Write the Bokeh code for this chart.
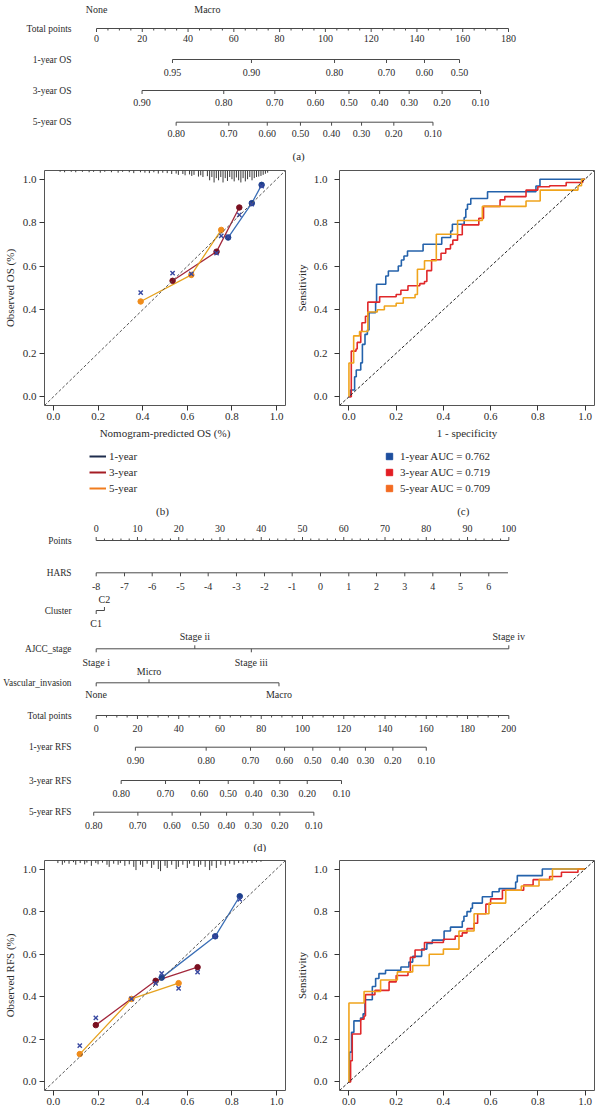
import numpy as np
from bokeh.plotting import figure
from bokeh.models import Range1d, FixedTicker, NumeralTickFormatter, Legend, LegendItem, Label, Slope
from bokeh.layouts import column, row
from bokeh.embed import file_html
from bokeh.resources import INLINE
from bokeh.core.properties import value

FONT = "Liberation Serif"
INK = "#2b2b2b"
NLINE = "#4a4a4a"

# ======================= DATA =======================
# (a) OS nomogram (visible part)
os_row_names = ["Total points", "1-year OS", "3-year OS", "5-year OS"]
os_vi_labels = ["None", "Macro"]
os_vi_points = [0.0, 26.9]
os_total_max = 180
os1_probs = [0.95, 0.90, 0.80, 0.70, 0.60, 0.50]
os1_total = [33.2, 67.7, 104.0, 126.7, 143.3, 158.6]
os3_probs = [0.90, 0.80, 0.70, 0.60, 0.50, 0.40, 0.30, 0.20, 0.10]
os3_total = [19.9, 55.6, 77.9, 95.7, 110.3, 123.7, 136.6, 151.0, 167.8]
os5_probs = [0.80, 0.70, 0.60, 0.50, 0.40, 0.30, 0.20, 0.10]
os5_total = [34.8, 57.8, 74.6, 89.1, 102.7, 115.8, 129.9, 147.0]

# (b) calibration OS: predicted, observed (dots), bias-corrected (x)
cal_os_1y_pred = [0.783, 0.889, 0.933]
cal_os_1y_obs = [0.732, 0.890, 0.974]
cal_os_1y_corr = [0.735, 0.885, 0.968]
cal_os_3y_pred = [0.534, 0.731, 0.833]
cal_os_3y_obs = [0.533, 0.667, 0.870]
cal_os_3y_corr = [0.568, 0.660, 0.836]
cal_os_5y_pred = [0.391, 0.618, 0.752]
cal_os_5y_obs = [0.438, 0.560, 0.767]
cal_os_5y_corr = [0.479, 0.565, 0.740]
rug_os = [(0.03, 0.006), (0.05, 0.008), (0.08, 0.006), (0.10, 0.008), (0.13, 0.006), (0.16, 0.008),
          (0.18, 0.006), (0.21, 0.010), (0.23, 0.006), (0.26, 0.008), (0.29, 0.010), (0.31, 0.006),
          (0.34, 0.008), (0.36, 0.012), (0.39, 0.008), (0.41, 0.010), (0.43, 0.012), (0.45, 0.008),
          (0.47, 0.014), (0.49, 0.010), (0.51, 0.012), (0.53, 0.016), (0.55, 0.014), (0.56, 0.020),
          (0.58, 0.016), (0.59, 0.022), (0.61, 0.018), (0.62, 0.025), (0.63, 0.020), (0.65, 0.028),
          (0.66, 0.022), (0.67, 0.030), (0.69, 0.026), (0.70, 0.045), (0.71, 0.030), (0.72, 0.055),
          (0.73, 0.035), (0.74, 0.045), (0.75, 0.030), (0.76, 0.055), (0.77, 0.035), (0.78, 0.048),
          (0.79, 0.030), (0.80, 0.040), (0.81, 0.050), (0.82, 0.032), (0.83, 0.045), (0.84, 0.055),
          (0.85, 0.035), (0.86, 0.050), (0.87, 0.040), (0.88, 0.030), (0.89, 0.045), (0.90, 0.035),
          (0.91, 0.030), (0.92, 0.028), (0.93, 0.025), (0.94, 0.020), (0.95, 0.015), (0.96, 0.010)]
cal_legend_labels = ["1-year", "3-year", "5-year"]

# (c) ROC OS
roc_os_1y_fpr = [0, 0.007, 0.024, 0.031, 0.05, 0.057, 0.068, 0.078, 0.085, 0.113, 0.117, 0.156, 0.167,
                 0.209, 0.222, 0.233, 0.248, 0.314, 0.393, 0.431, 0.438, 0.488, 0.495, 0.502, 0.516,
                 0.587, 0.792, 0.809, 1.0]
roc_os_1y_tpr = [0, 0.031, 0.092, 0.123, 0.156, 0.241, 0.287, 0.307, 0.387, 0.433, 0.517, 0.555, 0.578,
                 0.601, 0.629, 0.647, 0.670, 0.701, 0.732, 0.762, 0.793, 0.824, 0.862, 0.885, 0.911,
                 0.942, 0.969, 1.0, 1.0]
roc_os_3y_fpr = [0, 0.01, 0.03, 0.035, 0.05, 0.055, 0.07, 0.08, 0.13, 0.2, 0.22, 0.25, 0.3, 0.32, 0.33,
                 0.35, 0.39, 0.41, 0.43, 0.44, 0.46, 0.48, 0.55, 0.57, 0.64, 0.66, 0.75, 0.8, 0.85, 0.92,
                 0.99, 1.0]
roc_os_3y_tpr = [0, 0.21, 0.22, 0.25, 0.30, 0.34, 0.37, 0.435, 0.46, 0.47, 0.49, 0.51, 0.52, 0.53, 0.58,
                 0.63, 0.66, 0.68, 0.70, 0.72, 0.745, 0.79, 0.82, 0.875, 0.905, 0.92, 0.95, 0.965, 0.97,
                 0.985, 1.0, 1.0]
roc_os_5y_fpr = [0, 0.0, 0.02, 0.045, 0.08, 0.12, 0.15, 0.2, 0.23, 0.28, 0.29, 0.32, 0.37, 0.46, 0.565,
                 0.75, 0.81, 0.97, 0.985, 1.0]
roc_os_5y_tpr = [0, 0.155, 0.28, 0.30, 0.39, 0.40, 0.417, 0.43, 0.455, 0.47, 0.586, 0.625, 0.747, 0.81,
                 0.875, 0.90, 0.95, 0.97, 1.0, 1.0]
roc_os_labels = ["1-year AUC = 0.762", "3-year AUC = 0.719", "5-year AUC = 0.709"]

# (d) RFS nomogram
rfs_row_names = ["Points", "HARS", "Cluster", "AJCC_stage", "Vascular_invasion", "Total points",
                 "1-year RFS", "3-year RFS", "5-year RFS"]
hars_values = [-8, -7, -6, -5, -4, -3, -2, -1, 0, 1, 2, 3, 4, 5, 6]
hars_points = [0, 6.86, 13.57, 20.43, 27.14, 34.0, 40.79, 47.5, 54.36, 61.22, 67.94, 74.79, 81.58, 88.29, 95.15]
hars_line_end = 99.8
cluster_labels = ["C1", "C2"]
cluster_points = [0.0, 2.0]
cluster_above = [False, True]
ajcc_labels = ["Stage i", "Stage ii", "Stage iii", "Stage iv"]
ajcc_points = [0.0, 23.9, 37.6, 100.0]
ajcc_above = [False, True, False, True]
vi_labels = ["None", "Micro", "Macro"]
vi_points = [0.0, 12.8, 44.3]
vi_above = [False, True, False]
rfs_total_max = 200
rfs1_probs = [0.90, 0.80, 0.70, 0.60, 0.50, 0.40, 0.30, 0.20, 0.10]
rfs1_total = [19.0, 53.3, 74.8, 91.3, 105.0, 118.1, 130.5, 143.8, 160.0]
rfs3_probs = [0.80, 0.70, 0.60, 0.50, 0.40, 0.30, 0.20, 0.10]
rfs3_total = [12.1, 33.6, 50.1, 64.0, 76.4, 89.0, 102.3, 118.9]
rfs5_probs = [0.80, 0.70, 0.60, 0.50, 0.40, 0.30, 0.20, 0.10]
rfs5_total = [-1.2, 20.2, 36.8, 50.6, 63.2, 76.1, 89.0, 105.5]

# (e) calibration RFS
cal_rfs_1y_pred = [0.485, 0.725, 0.835]
cal_rfs_1y_obs = [0.490, 0.684, 0.872]
cal_rfs_1y_corr = [0.510, 0.684, 0.857]
cal_rfs_3y_pred = [0.190, 0.458, 0.646]
cal_rfs_3y_obs = [0.267, 0.475, 0.539]
cal_rfs_3y_corr = [0.301, 0.463, 0.516]
cal_rfs_5y_pred = [0.118, 0.350, 0.561]
cal_rfs_5y_obs = [0.131, 0.390, 0.464]
cal_rfs_5y_corr = [0.171, 0.390, 0.440]
rug_rfs = [(0.02, 0.012), (0.04, 0.020), (0.05, 0.010), (0.07, 0.015), (0.09, 0.008), (0.10, 0.020),
           (0.12, 0.012), (0.14, 0.018), (0.15, 0.010), (0.17, 0.025), (0.19, 0.012), (0.20, 0.018),
           (0.22, 0.010), (0.24, 0.020), (0.25, 0.030), (0.27, 0.015), (0.29, 0.020), (0.30, 0.012),
           (0.32, 0.025), (0.34, 0.018), (0.36, 0.030), (0.37, 0.045), (0.39, 0.020), (0.40, 0.030),
           (0.42, 0.015), (0.44, 0.035), (0.45, 0.020), (0.47, 0.040), (0.48, 0.050), (0.50, 0.025),
           (0.51, 0.035), (0.53, 0.020), (0.55, 0.040), (0.56, 0.030), (0.58, 0.020), (0.60, 0.035),
           (0.61, 0.015), (0.63, 0.025), (0.65, 0.030), (0.66, 0.020), (0.68, 0.030), (0.70, 0.045),
           (0.71, 0.025), (0.73, 0.035), (0.75, 0.020), (0.77, 0.025), (0.79, 0.015), (0.81, 0.020),
           (0.83, 0.012), (0.85, 0.015), (0.87, 0.010), (0.89, 0.012), (0.91, 0.008), (0.93, 0.006)]

# (f) ROC RFS
roc_rfs_1y_fpr = [0, 0.003, 0.011, 0.021, 0.049, 0.06, 0.068, 0.099, 0.113, 0.127, 0.155, 0.22, 0.254,
                  0.27, 0.308, 0.33, 0.353, 0.403, 0.43, 0.48, 0.487, 0.5, 0.516, 0.523, 0.565, 0.607,
                  0.636, 0.706, 0.713, 0.819, 1.0]
roc_rfs_1y_tpr = [0, 0.14, 0.233, 0.287, 0.30, 0.32, 0.386, 0.448, 0.486, 0.509, 0.525, 0.54, 0.563,
                  0.59, 0.624, 0.65, 0.666, 0.709, 0.727, 0.755, 0.778, 0.80, 0.816, 0.84, 0.87, 0.893,
                  0.908, 0.939, 0.969, 1.0, 1.0]
roc_rfs_3y_fpr = [0, 0.007, 0.014, 0.05, 0.064, 0.07, 0.11, 0.17, 0.2, 0.25, 0.26, 0.28, 0.32, 0.4,
                  0.45, 0.48, 0.5, 0.53, 0.545, 0.58, 0.6, 0.65, 0.74, 0.78, 0.85, 0.9, 0.97, 1.0]
roc_rfs_3y_tpr = [0, 0.1, 0.225, 0.295, 0.31, 0.41, 0.43, 0.47, 0.5, 0.515, 0.585, 0.62, 0.655, 0.67,
                  0.685, 0.7, 0.72, 0.745, 0.79, 0.835, 0.86, 0.9, 0.925, 0.95, 0.965, 0.985, 1.0, 1.0]
roc_rfs_5y_fpr = [0, 0.0, 0.064, 0.134, 0.205, 0.27, 0.34, 0.4, 0.466, 0.53, 0.593, 0.664, 0.73, 0.805,
                  0.862, 1.0]
roc_rfs_5y_tpr = [0, 0.371, 0.425, 0.479, 0.517, 0.547, 0.6, 0.624, 0.709, 0.79, 0.84, 0.9, 0.92, 0.95,
                  1.0, 1.0]

# ======================= STYLE / LAYOUT =======================
CAL_LINE = ["#3b6fb6", "#a3283c", "#e6a21e"]
CAL_DOT = ["#1c3f8c", "#7a1020", "#f08c1a"]
CAL_X = "#3848a0"
CAL_LEG = ["#1f2d4d", "#a51d24", "#f07c1e"]
ROC_LINE = ["#2462ab", "#e0282a", "#f0a41c"]
ROC_LEG = ["#1d4e9e", "#e31e24", "#f36b21"]

PAGE_W = 599
A_H, D_H = 163, 334
B_H, LEG_H, E_H = 281, 74, 259
LEFT_W, RIGHT_W = 292, 307
TICKS01 = [0, 0.2, 0.4, 0.6, 0.8, 1.0]
ROW_LABEL_RIGHT = 71  # px from left where row names end


def nomo_fig(height, x0_px, k):
    p = figure(width=PAGE_W, height=height, x_range=Range1d(-x0_px / k, (PAGE_W - x0_px) / k),
               y_range=Range1d(height, 0), min_border=0, min_border_left=0, min_border_right=0,
               min_border_top=0, min_border_bottom=0, x_axis_location=None, y_axis_location=None,
               output_backend="svg", toolbar_location=None)
    p.grid.visible = False
    p.outline_line_color = None
    return p


def hline(p, x0, x1, y):
    p.segment(x0=[x0], y0=[y], x1=[x1], y1=[y], line_color=NLINE, line_width=1)


def ticks(p, xs, y, length):
    xs = list(xs)
    p.segment(x0=xs, y0=[y] * len(xs), x1=xs, y1=[y + length] * len(xs), line_color=NLINE, line_width=1)


def labels(p, xs, ys, texts, size="10px", align="center"):
    xs = list(xs)
    if not isinstance(ys, list):
        ys = [ys] * len(xs)
    p.text(x=xs, y=ys, text=list(texts), text_align=align, text_baseline="middle",
           text_font=value(FONT), text_font_size=size, text_color=INK)


def scale_row(p, xs, texts, y_line, y_lab, tick_len):
    hline(p, min(xs), max(xs), y_line)
    ticks(p, xs, y_line, tick_len)
    labels(p, xs, y_lab, texts)


def cat_row(p, xs, texts, above, y_line, y_up, y_down):
    hline(p, min(xs), max(xs), y_line)
    for x, t, a in zip(xs, texts, above):
        ticks(p, [x], y_line, -3.5 if a else 3.5)
        labels(p, [x], y_up if a else y_down, [t])


def fmt_p(v):
    return "%.2f" % v


# ---------------- (a) ----------------
kA = 412.0 / os_total_max
pa = nomo_fig(A_H, 96.0, kA)
labels(pa, [(ROW_LABEL_RIGHT - 96.0) / kA] * 4, [28, 59, 90, 121.7], os_row_names, "9.5px", "right")
labels(pa, [v * os_total_max / 100.0 for v in os_vi_points], 9, os_vi_labels)
tp_major = list(range(0, os_total_max + 1, 20))
hline(pa, 0, os_total_max, 28)
ticks(pa, tp_major, 28, 3.5)
ticks(pa, [v for v in range(0, os_total_max + 1, 5) if v % 20], 28, 2)
labels(pa, tp_major, 38, [str(v) for v in tp_major])
scale_row(pa, os1_total, [fmt_p(v) for v in os1_probs], 59, 72, 3.5)
scale_row(pa, os3_total, [fmt_p(v) for v in os3_probs], 90, 102, 3.5)
scale_row(pa, os5_total, [fmt_p(v) for v in os5_probs], 121.7, 133, 3.5)
pa.add_layout(Label(x=88.3, y=155, text="(a)", text_align="center", text_baseline="middle",
                    text_font=FONT, text_font_size="11px", text_color=INK))


# ---------------- calibration / ROC figs ----------------
def cal_fig(w, h, left, right, top, bottom, ylabel, xlabel, ystand, ylab_stand):
    p = figure(width=w, height=h, x_range=Range1d(-0.04, 1.04), y_range=Range1d(-0.04, 1.04),
               min_border_left=left, min_border_right=right, min_border_top=top,
               min_border_bottom=bottom, output_backend="svg", toolbar_location=None)
    p.grid.visible = False
    p.outline_line_color = "#555555"
    p.outline_line_width = 1
    for ax in (p.xaxis[0], p.yaxis[0]):
        ax.ticker = FixedTicker(ticks=TICKS01)
        ax.formatter = NumeralTickFormatter(format="0.0")
        ax.axis_line_color = None
        ax.major_tick_line_color = "#333333"
        ax.major_tick_out = 5
        ax.major_tick_in = 0
        ax.minor_tick_line_color = None
        ax.major_label_text_font = FONT
        ax.major_label_text_font_size = "11px"
        ax.major_label_text_color = INK
        ax.axis_label_text_font = FONT
        ax.axis_label_text_font_size = "11px"
        ax.axis_label_text_font_style = "normal"
        ax.axis_label_text_color = INK
    p.yaxis[0].axis_label = ylabel
    p.yaxis[0].major_label_standoff = ystand
    p.yaxis[0].axis_label_standoff = ylab_stand
    p.xaxis[0].major_label_standoff = 2
    if xlabel:
        p.xaxis[0].axis_label = xlabel
        p.xaxis[0].axis_label_standoff = 4
    return p


def draw_cal(p, preds, obss, corrs, rug):
    p.add_layout(Slope(gradient=1, y_intercept=0, line_color="#555555", line_dash="3 2", line_width=1))
    rx = [r[0] for r in rug]
    rh = [r[1] for r in rug]
    p.segment(x0=rx, y0=[1.04] * len(rx), x1=rx, y1=[1.04 - h for h in rh], line_color="#222222",
              line_width=0.9)
    for i in range(3):
        p.line(preds[i], obss[i], line_color=CAL_LINE[i], line_width=1.3)
    for i in range(3):
        p.scatter(preds[i], obss[i], marker="circle", size=5.5, fill_color=CAL_DOT[i], line_color=CAL_DOT[i])
    for i in range(3):
        p.scatter(preds[i], corrs[i], marker="x", size=6, line_color=CAL_X, line_width=1.4)


def draw_roc(p, fprs, tprs):
    p.add_layout(Slope(gradient=1, y_intercept=0, line_color="#222222", line_dash="3 2", line_width=1))
    for i in range(3):
        p.step(fprs[i], tprs[i], mode="after", line_color=ROC_LINE[i], line_width=1.6)


pb = cal_fig(LEFT_W, B_H, 43, 7, 7, 39, "Observed OS (%)", "Nomogram-predicted OS (%)", 3, 4)
draw_cal(pb, [cal_os_1y_pred, cal_os_3y_pred, cal_os_5y_pred],
         [cal_os_1y_obs, cal_os_3y_obs, cal_os_5y_obs],
         [cal_os_1y_corr, cal_os_3y_corr, cal_os_5y_corr], rug_os)

pc = cal_fig(RIGHT_W, B_H, 46, 5, 7, 39, "Sensitivity", "1 - specificity", 7, 3)
draw_roc(pc, [roc_os_1y_fpr, roc_os_3y_fpr, roc_os_5y_fpr], [roc_os_1y_tpr, roc_os_3y_tpr, roc_os_5y_tpr])


def legend_fig(w, kind, colors, texts, loc, gw, standoff, tag, tag_x):
    p = figure(width=w, height=LEG_H, x_range=Range1d(0, w), y_range=Range1d(0, LEG_H),
               min_border=0, min_border_left=0, min_border_right=0, min_border_top=0,
               min_border_bottom=0, x_axis_location=None, y_axis_location=None,
               output_backend="svg", toolbar_location=None)
    p.grid.visible = False
    p.outline_line_color = None
    rs = []
    for c in colors:
        if kind == "line":
            rs.append(p.line(x=[np.nan], y=[np.nan], line_color=c, line_width=2))
        else:
            rs.append(p.scatter(x=[np.nan], y=[np.nan], marker="square", size=7, fill_color=c, line_color=c))
    leg = Legend(items=[LegendItem(label=t, renderers=[r]) for t, r in zip(texts, rs)], location=loc,
                 orientation="vertical", border_line_color=None, background_fill_alpha=0, padding=0,
                 margin=0, spacing=0, glyph_width=gw, glyph_height=16, label_height=16,
                 label_standoff=standoff, label_text_font=FONT, label_text_font_size="11px",
                 label_text_color=INK)
    p.add_layout(leg)
    p.add_layout(Label(x=tag_x, y=8, text=tag, text_align="center", text_baseline="middle",
                       text_font=FONT, text_font_size="11px", text_color=INK))
    return p


lb = legend_fig(LEFT_W, "line", CAL_LEG, cal_legend_labels, (45, 22), 17, 3, "(b)", 143)
lc = legend_fig(RIGHT_W, "square", ROC_LEG, roc_os_labels, (42, 22), 16, 3, "(c)", 149)

# ---------------- (d) ----------------
kD = 412.6 / 100.0
pd = nomo_fig(D_H, 95.7, kD)
labels(pd, [(ROW_LABEL_RIGHT - 95.7) / kD] * 9, [22, 54.3, 92, 130.3, 164.3, 197, 228.7, 262, 293.7],
       rfs_row_names, "9.3px", "right")
pts_major = list(range(0, 101, 10))
hline(pd, 0, 100, 22)
ticks(pd, pts_major, 22, -3.5)
ticks(pd, [v for v in range(0, 101, 2) if v % 10], 22, -2)
labels(pd, pts_major, 10, [str(v) for v in pts_major])
hline(pd, 0, hars_line_end, 54.3)
ticks(pd, hars_points, 54.3, 3.5)
labels(pd, hars_points, 68, [str(v) for v in hars_values])
cat_row(pd, cluster_points, cluster_labels, cluster_above, 92, 81, 105)
cat_row(pd, ajcc_points, ajcc_labels, ajcc_above, 130.3, 118, 143.7)
cat_row(pd, vi_points, vi_labels, vi_above, 164.3, 152.7, 176)
f = 100.0 / rfs_total_max
tpd_major = list(range(0, rfs_total_max + 1, 20))
hline(pd, 0, 100, 197)
ticks(pd, [v * f for v in tpd_major], 197, 3.5)
ticks(pd, [v * f for v in range(0, rfs_total_max + 1, 5) if v % 20], 197, 2)
labels(pd, [v * f for v in tpd_major], 209.7, [str(v) for v in tpd_major])
scale_row(pd, [v * f for v in rfs1_total], [fmt_p(v) for v in rfs1_probs], 228.7, 242, 3.5)
scale_row(pd, [v * f for v in rfs3_total], [fmt_p(v) for v in rfs3_probs], 262, 274.7, 3.5)
scale_row(pd, [v * f for v in rfs5_total], [fmt_p(v) for v in rfs5_probs], 293.7, 307, 3.5)
pd.add_layout(Label(x=39.65, y=328, text="(d)", text_align="center", text_baseline="middle",
                    text_font=FONT, text_font_size="11px", text_color=INK))

# ---------------- (e), (f) ----------------
pe = cal_fig(LEFT_W, E_H, 43, 7, 8, 21, "Observed RFS (%)", None, 3, 4)
draw_cal(pe, [cal_rfs_1y_pred, cal_rfs_3y_pred, cal_rfs_5y_pred],
         [cal_rfs_1y_obs, cal_rfs_3y_obs, cal_rfs_5y_obs],
         [cal_rfs_1y_corr, cal_rfs_3y_corr, cal_rfs_5y_corr], rug_rfs)
pf = cal_fig(RIGHT_W, E_H, 46, 5, 8, 21, "Sensitivity", None, 7, 3)
draw_roc(pf, [roc_rfs_1y_fpr, roc_rfs_3y_fpr, roc_rfs_5y_fpr],
         [roc_rfs_1y_tpr, roc_rfs_3y_tpr, roc_rfs_5y_tpr])

layout = column(pa, row(column(pb, lb), column(pc, lc)), pd, row(pe, pf))
open("out.html", "w").write(file_html(layout, INLINE))
